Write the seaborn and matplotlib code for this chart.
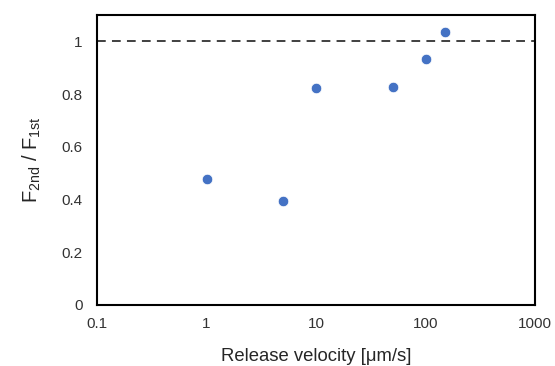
import matplotlib
matplotlib.use("Agg")
import matplotlib.pyplot as plt
import pandas as pd
import seaborn as sns
from matplotlib.ticker import FixedLocator, FixedFormatter, NullLocator

# data
velocity = [1, 5, 10, 50, 100, 150]
force_ratio = [0.478, 0.394, 0.822, 0.826, 0.933, 1.035]

x_ticks = [0.1, 1, 10, 100, 1000]
x_labels = ["0.1", "1", "10", "100", "1000"]
y_ticks = [0, 0.2, 0.4, 0.6, 0.8, 1.0]
y_labels = ["0", "0.2", "0.4", "0.6", "0.8", "1"]

sns.set_style("white")
plt.rcParams["font.family"] = ["Liberation Sans", "DejaVu Sans"]
plt.rcParams["mathtext.default"] = "regular"

df = pd.DataFrame({"velocity": velocity, "ratio": force_ratio})

fig = plt.figure(figsize=(5.55, 3.66), dpi=100)
ax = fig.add_axes([0.1748, 0.1667, 0.7892, 0.7923])

ax.axhline(1.0, color="#404040", linestyle=(0, (4.5, 3.2)), linewidth=1.4, zorder=1)
sns.scatterplot(data=df, x="velocity", y="ratio", ax=ax, color="#4472C4",
                s=58, edgecolor="white", linewidth=0.6, zorder=3)

ax.set_xscale("log")
ax.set_xlim(0.1, 1000)
ax.set_ylim(0, 1.1)
ax.xaxis.set_major_locator(FixedLocator(x_ticks))
ax.xaxis.set_major_formatter(FixedFormatter(x_labels))
ax.xaxis.set_minor_locator(NullLocator())
ax.yaxis.set_major_locator(FixedLocator(y_ticks))
ax.yaxis.set_major_formatter(FixedFormatter(y_labels))

ax.tick_params(axis="both", direction="in", length=4, width=1.2, colors="black",
               labelsize=11, labelcolor="#333333")
ax.tick_params(axis="y", pad=10.5)
ax.tick_params(axis="x", pad=9)

for sp in ax.spines.values():
    sp.set_color("black")
    sp.set_linewidth(1.5)

ax.set_xlabel("Release velocity [μm/s]", fontsize=13.3, color="#262626", labelpad=12)
ax.set_ylabel("$F_{2nd}$ / $F_{1st}$", fontsize=14.5, color="#262626", labelpad=13)

fig.savefig("out.png", dpi=100)
